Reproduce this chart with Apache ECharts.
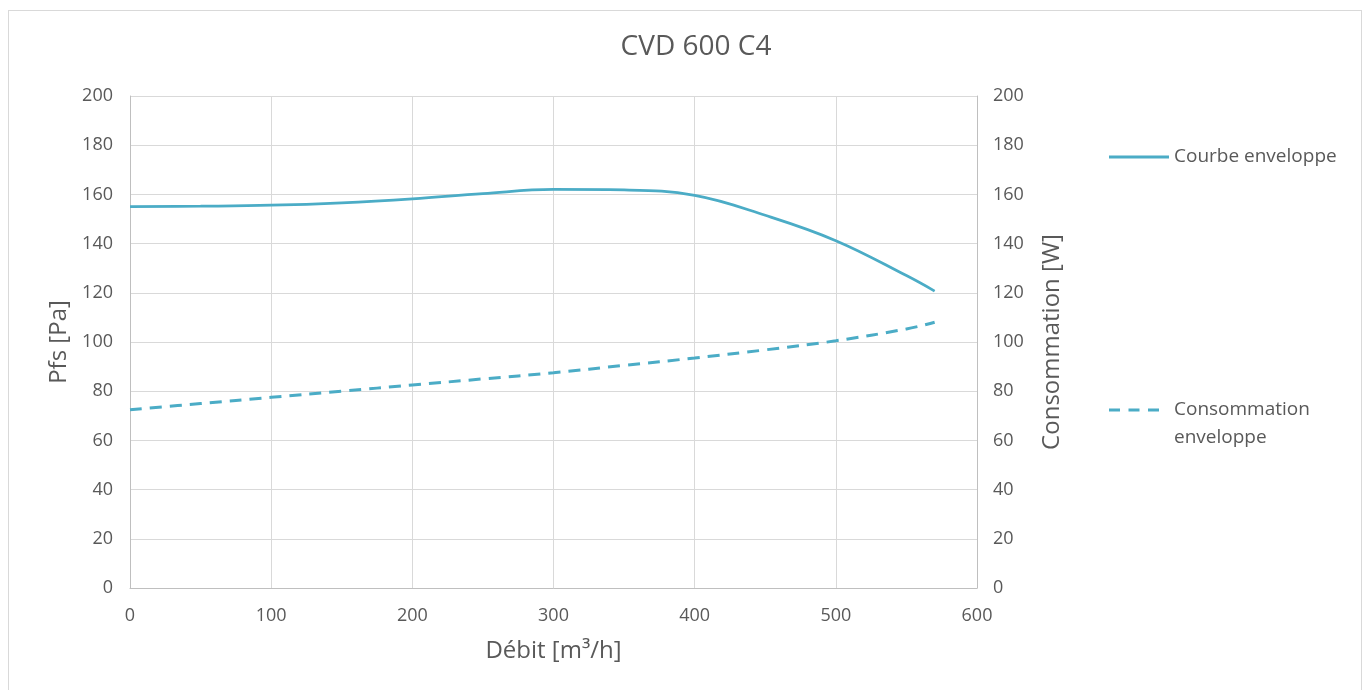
<!DOCTYPE html>
<html>
<head>
<meta charset="utf-8">
<script src="https://cdn.jsdelivr.net/npm/echarts@6/dist/echarts.min.js"></script>
<style>
html,body{margin:0;padding:0;background:#fff;}
#frame{position:absolute;left:8px;top:10px;width:1354px;height:700px;border:1px solid #d9d9d9;box-sizing:border-box;}
#chart{position:absolute;left:0;top:0;width:1367px;height:690px;}
</style>
</head>
<body>
<div id="frame"></div>
<div id="chart"></div>
<script>
const debit = [0, 50, 100, 150, 200, 250, 300, 350, 400, 450, 500, 550, 570];
const courbeEnveloppe = [155, 155.2, 155.6, 156.6, 158.2, 160.3, 162, 161.8, 159.6, 151.5, 141.2, 127, 120.7];
const consommationEnveloppe = [72.5, 75, 77.5, 80, 82.5, 85, 87.5, 90.5, 93.5, 96.8, 100.5, 105.3, 108];
const xTicks = [0, 100, 200, 300, 400, 500, 600];
const yTicks = [0, 20, 40, 60, 80, 100, 120, 140, 160, 180, 200];

const FONT = 'Open Sans';
const TXT = '#595959';
const LINE = '#4bacc6';

const solidIcon = 'path://M0,0h60v3h-60z';
const dashIcon = 'path://M0,0h0.01v0.01h-0.01z M0,12.5h11v3h-11z M19.5,12.5h11v3h-11z M39,12.5h11v3h-11z M59.99,55.99h0.01v0.01h-0.01z';

const chart = echarts.init(document.getElementById('chart'));
const pair = (xs, ys) => xs.map((x, i) => [x, ys[i]]);

chart.setOption({
  animation: false,
  textStyle: { fontFamily: FONT, color: TXT },
  title: {
    text: 'CVD 600 C4',
    left: 691, top: 28, textAlign: 'center',
    textStyle: { fontFamily: FONT, fontSize: 28, fontWeight: 'normal', color: TXT }
  },
  grid: { left: 130, right: 390, top: 96, bottom: 102 },
  legend: [
    {
      data: ['Courbe enveloppe'], left: 1104, top: 139, orient: 'vertical',
      icon: solidIcon, itemWidth: 60, itemHeight: 3,
      textStyle: { fontFamily: FONT, fontSize: 19, color: TXT, lineHeight: 26 }
    },
    {
      data: ['Consommation enveloppe'], left: 1104, top: 391, orient: 'vertical',
      icon: dashIcon, itemWidth: 60, itemHeight: 56,
      formatter: n => 'Consommation\nenveloppe',
      textStyle: { fontFamily: FONT, fontSize: 19, color: TXT, lineHeight: 28 }
    }
  ],
  xAxis: {
    type: 'value', min: xTicks[0], max: xTicks[xTicks.length - 1], interval: 100,
    name: 'Débit [m³/h]', nameLocation: 'middle', nameGap: 51,
    nameTextStyle: { fontFamily: FONT, fontSize: 24, color: TXT },
    axisLine: { show: true, lineStyle: { color: '#bfbfbf', width: 1 } },
    axisTick: { show: false },
    axisLabel: { fontFamily: FONT, fontSize: 18, color: TXT, margin: 19 },
    splitLine: { show: true, lineStyle: { color: '#d9d9d9', width: 1 } }
  },
  yAxis: [
    {
      type: 'value', min: yTicks[0], max: yTicks[yTicks.length - 1], interval: 20,
      name: 'Pfs [Pa]', nameLocation: 'middle', nameGap: 57, nameRotate: 90,
      nameTextStyle: { fontFamily: FONT, fontSize: 24, color: TXT },
      axisLine: { show: true, lineStyle: { color: '#bfbfbf', width: 1 } },
      axisTick: { show: false },
      axisLabel: { fontFamily: FONT, fontSize: 18, color: TXT, margin: 17 },
      splitLine: { show: true, lineStyle: { color: '#d9d9d9', width: 1 } }
    },
    {
      type: 'value', min: yTicks[0], max: yTicks[yTicks.length - 1], interval: 20,
      position: 'right',
      name: 'Consommation [W]', nameLocation: 'middle', nameGap: 63, nameRotate: 90,
      nameTextStyle: { fontFamily: FONT, fontSize: 24, color: TXT },
      axisLine: { show: true, lineStyle: { color: '#bfbfbf', width: 1 } },
      axisTick: { show: false },
      axisLabel: { fontFamily: FONT, fontSize: 18, color: TXT, margin: 16 },
      splitLine: { show: false }
    }
  ],
  series: [
    {
      name: 'Courbe enveloppe', type: 'line', yAxisIndex: 0,
      data: pair(debit, courbeEnveloppe), smooth: 0.4, symbol: 'none',
      lineStyle: { color: LINE, width: 2.75 }, itemStyle: { color: LINE }
    },
    {
      name: 'Consommation enveloppe', type: 'line', yAxisIndex: 1,
      data: pair(debit, consommationEnveloppe), smooth: 0.4, symbol: 'none',
      lineStyle: { color: LINE, width: 3, type: [12, 8] }, itemStyle: { color: LINE }
    }
  ]
});
</script>
</body>
</html>
